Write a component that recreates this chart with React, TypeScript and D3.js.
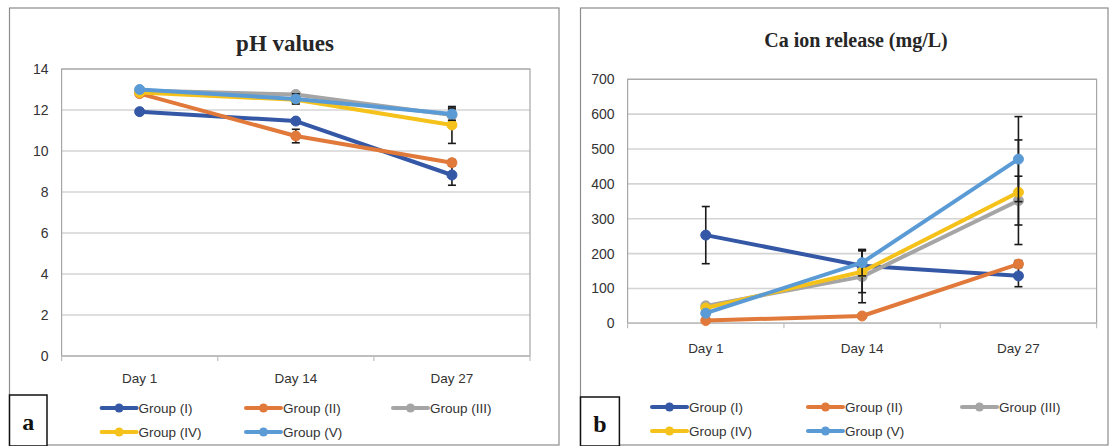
import React from 'react';
import * as d3 from 'd3';

const days = ['Day 1', 'Day 14', 'Day 27'];
const groups = ['Group (I)', 'Group (II)', 'Group (III)', 'Group (IV)', 'Group (V)'];
const colors = ['#3457A6', '#E0793A', '#A5A5A5', '#F5C21B', '#5B9BD5'];

// pH values (mean) per group across days
const phG1 = [11.92, 11.46, 8.83];
const phG2 = [12.8, 10.73, 9.43];
const phG3 = [12.95, 12.76, 11.75];
const phG4 = [12.85, 12.5, 11.27];
const phG5 = [13.0, 12.54, 11.8];
// pH error (SD)
const phE1 = [0.1, 0.12, 0.5];
const phE2 = [0.1, 0.33, 0.15];
const phE3 = [0.05, 0.1, 0.3];
const phE4 = [0.05, 0.15, 0.9];
const phE5 = [0.05, 0.25, 0.3];

// Ca ion release (mg/L)
const caG1 = [253, 165, 136];
const caG2 = [8, 21, 170];
const caG3 = [50, 134, 352];
const caG4 = [44, 148, 376];
const caG5 = [29, 174, 471];
const caE1 = [82, 10, 31];
const caE2 = [3, 5, 10];
const caE3 = [5, 75, 70];
const caE4 = [5, 60, 150];
const caE5 = [5, 38, 122];

const phTicks = [0, 2, 4, 6, 8, 10, 12, 14];
const caTicks = [0, 100, 200, 300, 400, 500, 600, 700];

type PanelProps = {
  box: [number, number, number, number];
  plot: [number, number, number, number];
  title: string;
  titleX: number;
  titleY: number;
  titleSize: number;
  ticks: number[];
  series: number[][];
  errors: number[][];
  xLabelY: number;
  legendCols: number[];
  legendRows: number[];
  letter: string;
  letterBox: [number, number, number, number];
};

const sans = '"Liberation Sans", Arial, sans-serif';
const serif = '"Liberation Serif", "Times New Roman", serif';

function Panel(p: PanelProps) {
  const [px0, py0, px1, py1] = p.plot;
  const x = d3.scaleBand<string>().domain(days).range([px0, px1]);
  const y = d3.scaleLinear().domain([0, d3.max(p.ticks) as number]).range([py1, py0]);
  const cx = (d: string) => (x(d) as number) + x.bandwidth() / 2;
  const line = d3
    .line<number>()
    .x((_, i) => cx(days[i]))
    .y((v) => y(v));
  const [bx0, by0, bx1, by1] = p.box;
  const [lx0, ly0, lx1, ly1] = p.letterBox;
  const boundaries = [px0, ...days.map((d) => (x(d) as number) + x.bandwidth())];
  return (
    <g>
      <rect x={bx0} y={by0} width={bx1 - bx0} height={by1 - by0} fill="#fff" stroke="#8c8c8c" strokeWidth={1.2} />
      <text x={p.titleX} y={p.titleY} textAnchor="middle" fontFamily={serif} fontWeight="bold" fontSize={p.titleSize} fill="#262626">
        {p.title}
      </text>
      {p.ticks.map((t) => (
        <g key={t}>
          <line x1={px0} x2={px1} y1={y(t)} y2={y(t)} stroke="#d4d4d4" strokeWidth={1.6} />
          <text x={px0 - 13} y={y(t) + 5} textAnchor="end" fontFamily={sans} fontSize={14} fill="#333">
            {t}
          </text>
        </g>
      ))}
      <rect x={px0} y={py0} width={px1 - px0} height={py1 - py0} fill="none" stroke="#a6a6a6" strokeWidth={1.2} />
      <line x1={px0} x2={px1} y1={py1} y2={py1} stroke="#bfbfbf" strokeWidth={1.6} />
      {boundaries.map((b, i) => (
        <line key={i} x1={b} x2={b} y1={py1} y2={py1 + 5} stroke="#bfbfbf" strokeWidth={1.2} />
      ))}
      {days.map((d) => (
        <text key={d} x={cx(d)} y={p.xLabelY} textAnchor="middle" fontFamily={sans} fontSize={13.5} fill="#333">
          {d}
        </text>
      ))}
      {p.series.map((s, si) => (
        <g key={si}>
          <path d={line(s) as string} fill="none" stroke={colors[si]} strokeWidth={4} strokeLinejoin="round" strokeLinecap="round" />
          {s.map((v, i) => {
            const e = p.errors[si][i];
            const xx = cx(days[i]);
            return (
              <g key={i} stroke="#1a1a1a" strokeWidth={1.6}>
                <line x1={xx} x2={xx} y1={y(v - e)} y2={y(v + e)} />
                <line x1={xx - 4} x2={xx + 4} y1={y(v - e)} y2={y(v - e)} />
                <line x1={xx - 4} x2={xx + 4} y1={y(v + e)} y2={y(v + e)} />
              </g>
            );
          })}
          {s.map((v, i) => (
            <circle key={'m' + i} cx={cx(days[i])} cy={y(v)} r={5} fill={colors[si]} stroke={colors[si]} strokeWidth={1} />
          ))}
        </g>
      ))}
      {groups.map((g, gi) => {
        const lx = p.legendCols[gi % 3];
        const ly = p.legendRows[Math.floor(gi / 3)];
        return (
          <g key={g}>
            <line x1={lx} x2={lx + 35} y1={ly} y2={ly} stroke={colors[gi]} strokeWidth={4} strokeLinecap="round" />
            <circle cx={lx + 17.5} cy={ly} r={4.5} fill={colors[gi]} />
            <text x={lx + 37} y={ly + 5} fontFamily={sans} fontSize={13.5} fill="#333">
              {g}
            </text>
          </g>
        );
      })}
      <rect x={lx0} y={ly0} width={lx1 - lx0} height={ly1 - ly0} fill="#fff" stroke="#111" strokeWidth={1.5} />
      <text x={(lx0 + lx1) / 2} y={ly0 + 35} textAnchor="middle" fontFamily={serif} fontWeight="bold" fontSize={24} fill="#111">
        {p.letter}
      </text>
    </g>
  );
}

export default function App() {
  return (
    <svg width={1110} height={446} style={{ position: 'absolute', left: 0, top: 0, background: '#fff' }}>
      <rect x={0} y={0} width={1110} height={446} fill="#fff" />
      <Panel
        box={[9.5, 8, 559, 445]}
        plot={[61.6, 69, 530, 356]}
        title="pH values"
        titleX={285}
        titleY={51}
        titleSize={23}
        ticks={phTicks}
        series={[phG1, phG2, phG3, phG4, phG5]}
        errors={[phE1, phE2, phE3, phE4, phE5]}
        xLabelY={383}
        legendCols={[101.6, 246, 393]}
        legendRows={[408, 432]}
        letter="a"
        letterBox={[9.5, 395, 47, 446]}
      />
      <Panel
        box={[580.5, 8, 1108, 445]}
        plot={[627.6, 79.3, 1096.6, 323.3]}
        title="Ca ion release (mg/L)"
        titleX={856}
        titleY={47}
        titleSize={20}
        ticks={caTicks}
        series={[caG1, caG2, caG3, caG4, caG5]}
        errors={[caE1, caE2, caE3, caE4, caE5]}
        xLabelY={353}
        legendCols={[652, 808, 962]}
        legendRows={[407, 431]}
        letter="b"
        letterBox={[580.5, 397, 619.4, 446]}
      />
    </svg>
  );
}
